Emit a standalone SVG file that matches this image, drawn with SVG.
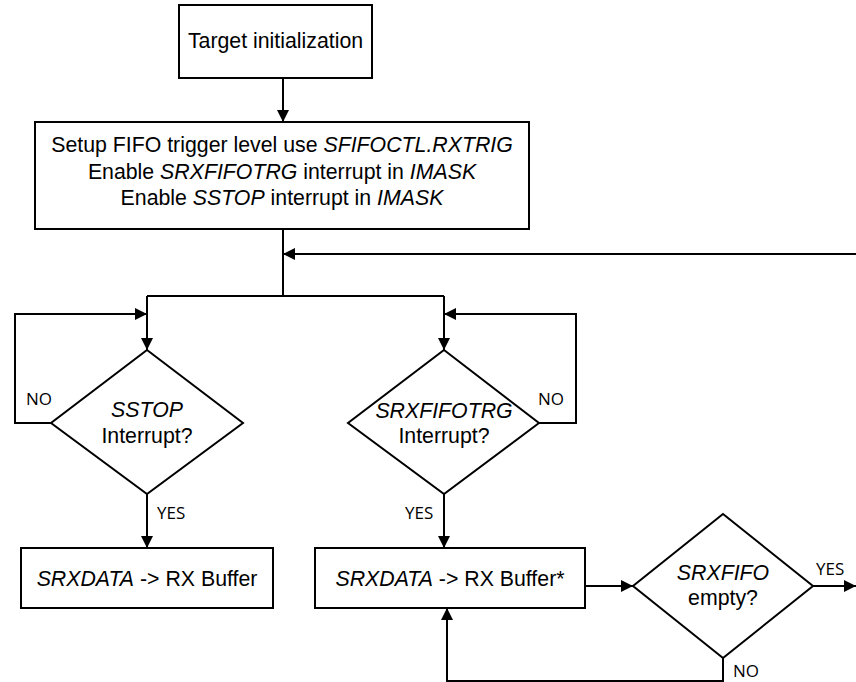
<svg xmlns="http://www.w3.org/2000/svg" width="856" height="682" viewBox="0 0 856 682">
<style>
.box{fill:#fff;stroke:#000;stroke-width:2}
.t{font-family:"Liberation Sans",Arial,sans-serif;font-size:21.3px;fill:#000;text-anchor:middle}
.i{font-style:italic}
.lbl{font-family:"Open Sans","Noto Sans",sans-serif;font-size:17px;fill:#000}
.c{fill:none;stroke:#000;stroke-width:2}
</style>
<defs>
<marker id="ah" viewBox="0 0 12 12" refX="12" refY="6" markerWidth="12" markerHeight="12" markerUnits="userSpaceOnUse" orient="auto">
<path d="M0,0 L12,6 L0,12 Z" fill="#000"/>
</marker>
</defs>
<g id="connectors">
<path class="c" d="M283,78 V122" marker-end="url(#ah)"/>
<path class="c" d="M283,229 V296"/>
<path class="c" d="M856,254 H283" marker-end="url(#ah)"/>
<path class="c" d="M147,296 H444"/>
<path class="c" d="M147,296 V350" marker-end="url(#ah)"/>
<path class="c" d="M444,296 V350" marker-end="url(#ah)"/>
<path class="c" d="M51,423 H15 V314 H147" marker-end="url(#ah)"/>
<path class="c" d="M539,423 H576 V314 H444" marker-end="url(#ah)"/>
<path class="c" d="M147,494 V548" marker-end="url(#ah)"/>
<path class="c" d="M444,494 V548" marker-end="url(#ah)"/>
<path class="c" d="M585,586 H633" marker-end="url(#ah)"/>
<path class="c" d="M813,586 H856" marker-end="url(#ah)"/>
<path class="c" d="M723,658 V681 H447 V608" marker-end="url(#ah)"/>
</g>
<g id="n1">
<rect class="box" x="179" y="5" width="193" height="73"/>
<text class="t" x="275.5" y="48">Target initialization</text>
</g>
<g id="n2">
<rect class="box" x="35" y="122" width="494" height="107"/>
<text class="t" x="282" y="152">Setup FIFO trigger level use <tspan class="i">SFIFOCTL.RXTRIG</tspan></text>
<text class="t" x="282" y="178.5">Enable <tspan class="i">SRXFIFOTRG</tspan> interrupt in <tspan class="i">IMASK</tspan></text>
<text class="t" x="282" y="205">Enable <tspan class="i">SSTOP</tspan> interrupt in <tspan class="i">IMASK</tspan></text>
</g>
<g id="d1">
<polygon class="box" points="147,350 243,423 147,494 51,423"/>
<text class="t i" x="147" y="417">SSTOP</text>
<text class="t" x="147" y="443">Interrupt?</text>
</g>
<g id="d2">
<polygon class="box" points="444,350 539,423 444,494 348,423"/>
<text class="t i" x="444" y="418">SRXFIFOTRG</text>
<text class="t" x="444" y="443">Interrupt?</text>
</g>
<g id="n3">
<rect class="box" x="21" y="548" width="252" height="60"/>
<text class="t" x="147" y="586"><tspan class="i">SRXDATA</tspan> -&gt; RX Buffer</text>
</g>
<g id="n4">
<rect class="box" x="315" y="548" width="270" height="60"/>
<text class="t" x="450" y="586"><tspan class="i">SRXDATA</tspan> -&gt; RX Buffer*</text>
</g>
<g id="d3">
<polygon class="box" points="723,514 813,586 723,658 633,586"/>
<text class="t i" x="723" y="580">SRXFIFO</text>
<text class="t" x="723" y="605">empty?</text>
</g>
<g id="labels">
<text class="lbl" x="26" y="405">NO</text>
<text class="lbl" x="538" y="405">NO</text>
<text class="lbl" x="157" y="519">YES</text>
<text class="lbl" x="405" y="519">YES</text>
<text class="lbl" x="816" y="575">YES</text>
<text class="lbl" x="733" y="677">NO</text>
</g>
</svg>
